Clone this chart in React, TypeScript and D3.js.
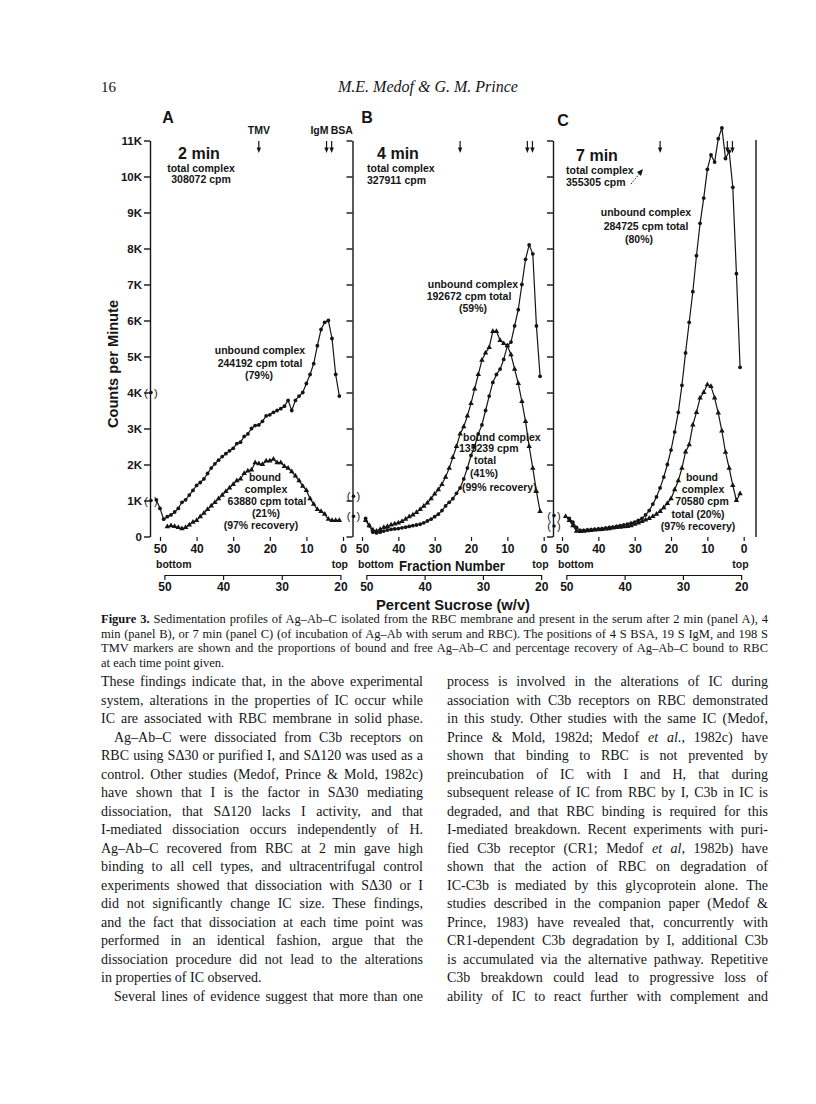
import React, { useEffect, useRef } from 'react';
import * as d3 from 'd3';

// fraction numbers (1 = top of gradient)
const fractions = [1, 2, 3, 4, 5, 6, 7, 8, 9, 10, 11, 12, 13, 14, 15, 16, 17, 18, 19, 20, 21, 22, 23, 24, 25,
  26, 27, 28, 29, 30, 31, 32, 33, 34, 35, 36, 37, 38, 39, 40, 41, 42, 43, 44, 45, 46, 47, 48, 49, 50, 51];
const yTicks = [0, 1, 2, 3, 4, 5, 6, 7, 8, 9, 10, 11];
const fractionTicks = [50, 40, 30, 20, 10, 0];
const sucroseTicks = [50, 40, 30, 20];

// counts per minute (thousands), listed from fraction 1 upward
const unboundA = [3.9, 4.5, 5.5, 6.0, 5.95, 5.75, 5.3, 4.8, 4.5, 4.25, 4.0, 3.9, 3.78, 3.5, 3.78, 3.62, 3.55, 3.5,
  3.45, 3.38, 3.35, 3.2, 3.1, 3.08, 3.0, 2.85, 2.78, 2.62, 2.58, 2.45, 2.38, 2.3, 2.22, 2.12, 2.02, 1.9, 1.75, 1.6,
  1.5, 1.42, 1.28, 1.15, 1.02, 0.95, 0.78, 0.68, 0.6, 0.55, 0.48, 0.78, 1.02];
const boundA = [0.45, 0.45, 0.45, 0.48, 0.62, 0.7, 0.75, 0.9, 1.05, 1.28, 1.4, 1.55, 1.68, 1.8, 1.9, 1.95, 2.05,
  2.05, 2.15, 2.1, 2.1, 2.0, 2.02, 2.05, 1.85, 1.82, 1.75, 1.6, 1.55, 1.45, 1.35, 1.25, 1.15, 1.05, 0.95, 0.85,
  0.75, 0.65, 0.55, 0.45, 0.4, 0.32, 0.25, 0.22, 0.25, 0.28, 0.3, 0.27];
const unboundB = [4.45, 5.85, 7.85, 8.1, 7.7, 7.0, 6.3, 5.85, 5.4, 5.3, 4.92, 4.65, 4.5, 4.28, 3.9, 3.5, 3.1, 2.85,
  2.5, 2.25, 1.9, 1.6, 1.35, 1.2, 1.05, 0.95, 0.85, 0.72, 0.62, 0.55, 0.48, 0.43, 0.38, 0.34, 0.32, 0.3, 0.28,
  0.26, 0.24, 0.22, 0.21, 0.2, 0.18, 0.15, 0.12, 0.1, 0.12, 0.3, 0.5];
const boundB = [0.7, 1.25, 1.9, 2.5, 3.2, 3.75, 4.25, 4.65, 5.05, 5.3, 5.36, 5.45, 5.7, 5.7, 5.25, 5.1, 4.9, 4.5,
  4.1, 3.7, 3.35, 3.05, 2.85, 2.5, 2.2, 1.9, 1.65, 1.45, 1.3, 1.18, 1.05, 0.93, 0.84, 0.75, 0.67, 0.6, 0.55, 0.48,
  0.42, 0.38, 0.35, 0.32, 0.28, 0.25, 0.2, 0.15, 0.18, 0.3, 0.45];
const unboundC = [4.7, 7.3, 9.7, 10.7, 10.5, 11.35, 11.05, 10.4, 10.6, 10.2, 9.4, 8.7, 7.8, 6.8, 5.95, 5.1, 4.2,
  3.45, 2.9, 2.4, 2.0, 1.65, 1.35, 1.1, 0.9, 0.72, 0.6, 0.5, 0.45, 0.4, 0.37, 0.34, 0.32, 0.3, 0.28, 0.26, 0.25,
  0.23, 0.22, 0.21, 0.2, 0.19, 0.18, 0.17, 0.17, 0.25, 0.4, 0.5];
const boundC = [1.19, 1.0, 1.42, 1.9, 2.34, 2.93, 3.43, 3.85, 4.17, 4.22, 4.0, 3.85, 3.45, 3.1, 2.55, 2.35, 1.9,
  1.55, 1.3, 1.05, 0.92, 0.8, 0.7, 0.62, 0.56, 0.5, 0.46, 0.42, 0.38, 0.34, 0.3, 0.28, 0.27, 0.26, 0.25, 0.24,
  0.22, 0.21, 0.2, 0.19, 0.18, 0.17, 0.16, 0.15, 0.14, 0.15, 0.3, 0.45, 0.56];

// pellet counts drawn in brackets on the y axis
const pelletsA = [4.0, 1.0];
const pelletsB = [1.12, 0.56];
const pelletsC = [0.58, 0.29];

// sedimentation markers (fraction numbers)
const markerNames = ['TMV', 'IgM', 'BSA'];
const markerFractions = [23, 4.5, 3.1];

const INK = '#151515';
const SANS = '"Liberation Sans", Arial, sans-serif';
const SERIF = '"Liberation Serif", "Times New Roman", serif';

const panels = [
  { letter: 'A', axisX: 150, x50: 160, x0: 343, unbound: unboundA, bound: boundA, pellets: pelletsA },
  { letter: 'B', axisX: 352.5, x50: 362, x0: 543.7, unbound: unboundB, bound: boundB, pellets: pelletsB },
  { letter: 'C', axisX: 553, x50: 562, x0: 743.7, unbound: unboundC, bound: boundC, pellets: pelletsC },
];

const caption = [
  'Sedimentation profiles of Ag–Ab–C isolated from the RBC membrane and present in the serum after 2 min (panel A), 4',
  'min (panel B), or 7 min (panel C) (of incubation of Ag–Ab with serum and RBC). The positions of 4 S BSA, 19 S IgM, and 198 S',
  'TMV markers are shown and the proportions of bound and free Ag–Ab–C and percentage recovery of Ag–Ab–C bound to RBC',
  'at each time point given.',
];

// '>' = paragraph indent, '|' at end = last line (not justified), *x* = italic
const leftLines = [
  'These findings indicate that, in the above experimental',
  'system, alterations in the properties of IC occur while',
  'IC are associated with RBC membrane in solid phase.',
  '>Ag–Ab–C were dissociated from C3b receptors on',
  'RBC using SΔ30 or purified I, and SΔ120 was used as a',
  'control. Other studies (Medof, Prince & Mold, 1982c)',
  'have shown that I is the factor in SΔ30 mediating',
  'dissociation, that SΔ120 lacks I activity, and that',
  'I-mediated dissociation occurs independently of H.',
  'Ag–Ab–C recovered from RBC at 2 min gave high',
  'binding to all cell types, and ultracentrifugal control',
  'experiments showed that dissociation with SΔ30 or I',
  'did not significantly change IC size. These findings,',
  'and the fact that dissociation at each time point was',
  'performed in an identical fashion, argue that the',
  'dissociation procedure did not lead to the alterations',
  'in properties of IC observed.|',
  '>Several lines of evidence suggest that more than one',
];
const rightLines = [
  'process is involved in the alterations of IC during',
  'association with C3b receptors on RBC demonstrated',
  'in this study. Other studies with the same IC (Medof,',
  'Prince & Mold, 1982d; Medof *et al.*, 1982c) have',
  'shown that binding to RBC is not prevented by',
  'preincubation of IC with I and H, that during',
  'subsequent release of IC from RBC by I, C3b in IC is',
  'degraded, and that RBC binding is required for this',
  'I-mediated breakdown. Recent experiments with puri-',
  'fied C3b receptor (CR1; Medof *et al*, 1982b) have',
  'shown that the action of RBC on degradation of',
  'IC-C3b is mediated by this glycoprotein alone. The',
  'studies described in the companion paper (Medof &',
  'Prince, 1983) have revealed that, concurrently with',
  'CR1-dependent C3b degradation by I, additional C3b',
  'is accumulated via the alternative pathway. Repetitive',
  'C3b breakdown could lead to progressive loss of',
  'ability of IC to react further with complement and',
];

const rich = (s: string) =>
  s.split('*').map((part, i) =>
    i % 2 === 1 ? <tspan key={i} fontStyle="italic">{part}</tspan> : <tspan key={i}>{part}</tspan>
  );

const Column = ({ lines, x, width, top, lead }: { lines: string[]; x: number; width: number; top: number; lead: number }) => (
  <g fontFamily={SERIF} fontSize={14} fill={INK}>
    {lines.map((raw, i) => {
      const indent = raw.startsWith('>') ? 13 : 0;
      const last = raw.endsWith('|');
      const t = raw.replace(/^>/, '').replace(/\|$/, '');
      return (
        <text key={i} x={x + indent} y={top + i * lead} className={last ? undefined : 'just'}
          data-w={width - indent}>
          {rich(t)}
        </text>
      );
    })}
  </g>
);

const L = ({ x, y, t, size = 10.5, anchor = 'middle' }: { x: number; y: number; t: string; size?: number; anchor?: string }) => (
  <text x={x} y={y} fontSize={size} textAnchor={anchor as any}>{t}</text>
);

export default function App() {
  const ref = useRef<SVGGElement>(null);
  const svgRef = useRef<SVGSVGElement>(null);

  useEffect(() => {
    const root = d3.select(ref.current);
    root.selectAll('*').remove();

    const y = d3.scaleLinear().domain([0, 11]).range([536.5, 140.5]);

    panels.forEach((p) => {
      const x = d3.scaleLinear().domain([50, 0]).range([p.x50, p.x0]);
      const g = root.append('g');

      // y axis
      const ya = g.append('g')
        .attr('transform', `translate(${p.axisX},0)`)
        .call(
          d3.axisLeft(y).tickValues(yTicks).tickSize(6).tickSizeOuter(0).tickPadding(2)
            .tickFormat((d) => (p.letter === 'A' ? (+d === 0 ? '0' : `${d}K`) : ''))
        );
      ya.attr('font-family', SANS).attr('font-size', 11.5).attr('font-weight', 'bold');
      ya.selectAll('line, path').attr('stroke', INK).attr('stroke-width', 1.4);
      ya.selectAll('text').attr('fill', INK);

      // fraction number ticks
      const xa = g.append('g')
        .attr('transform', 'translate(0,537)')
        .call(d3.axisBottom(x).tickValues(fractionTicks).tickSize(4).tickPadding(3).tickFormat(d3.format('d')));
      xa.select('.domain').remove();
      xa.attr('font-family', SANS).attr('font-size', 12).attr('font-weight', 'bold');
      xa.selectAll('line').attr('stroke', INK).attr('stroke-width', 1.2);
      xa.selectAll('text').attr('fill', INK);

      // percent sucrose scale
      const s = d3.scaleLinear().domain([50, 20]).range([x(48.8), x(0.7)]);
      const sa = g.append('g')
        .attr('transform', 'translate(0,575)')
        .call(d3.axisBottom(s).tickValues(sucroseTicks).tickSize(5).tickSizeOuter(0).tickPadding(2).tickFormat(d3.format('d')));
      sa.attr('font-family', SANS).attr('font-size', 12).attr('font-weight', 'bold');
      sa.selectAll('line, path').attr('stroke', INK).attr('stroke-width', 1.2);
      sa.selectAll('text').attr('fill', INK);

      g.append('text').attr('x', x(50) - 4).attr('y', 568).text('bottom')
        .attr('font-family', SANS).attr('font-size', 10.5).attr('font-weight', 'bold').attr('fill', INK);
      g.append('text').attr('x', x(0) + 5).attr('y', 568).attr('text-anchor', 'end').text('top')
        .attr('font-family', SANS).attr('font-size', 10.5).attr('font-weight', 'bold').attr('fill', INK);

      // markers
      markerFractions.forEach((f) => {
        const mx = x(f);
        g.append('line').attr('x1', mx).attr('x2', mx).attr('y1', 141).attr('y2', 149)
          .attr('stroke', INK).attr('stroke-width', 1.2);
        g.append('path').attr('d', `M${mx - 2.2},147.5L${mx + 2.2},147.5L${mx},153Z`).attr('fill', INK);
      });
      if (p.letter === 'A') {
        const mk = g.append('g').attr('font-family', SANS).attr('font-size', 10.5)
          .attr('font-weight', 'bold').attr('fill', INK);
        mk.append('text').attr('x', x(markerFractions[0])).attr('y', 134).attr('text-anchor', 'middle')
          .text(markerNames[0]);
        mk.append('text').attr('x', x(markerFractions[1]) + 2).attr('y', 134).attr('text-anchor', 'end')
          .text(markerNames[1]);
        mk.append('text').attr('x', x(markerFractions[2]) - 1).attr('y', 134).attr('text-anchor', 'start')
          .text(markerNames[2]);
      }

      // curves
      const line = d3.line<number>().x((_, i) => x(fractions[i])).y((d) => y(d));
      g.append('path').attr('d', line(p.bound)).attr('fill', 'none').attr('stroke', INK).attr('stroke-width', 1.2);
      g.append('path').attr('d', line(p.unbound)).attr('fill', 'none').attr('stroke', INK).attr('stroke-width', 1.2);
      g.selectAll('circle.u').data(p.unbound).join('circle').attr('class', 'u')
        .attr('cx', (_, i) => x(fractions[i])).attr('cy', (d) => y(d)).attr('r', 1.9).attr('fill', INK);
      g.selectAll('path.b').data(p.bound).join('path').attr('class', 'b')
        .attr('d', d3.symbol(d3.symbolTriangle, 13) as any)
        .attr('transform', (d, i) => `translate(${x(fractions[i])},${y(d)})`).attr('fill', INK);

      // pellets in brackets
      p.pellets.forEach((v) => {
        const py = y(v);
        g.append('circle').attr('cx', p.axisX + 1).attr('cy', py).attr('r', 1.8).attr('fill', INK);
        g.append('text').attr('x', p.axisX - 2).attr('y', py + 4).attr('text-anchor', 'end').text('(')
          .attr('font-family', SANS).attr('font-size', 11).attr('fill', INK);
        g.append('text').attr('x', p.axisX + 4).attr('y', py + 4).text(')')
          .attr('font-family', SANS).attr('font-size', 11).attr('fill', INK);
      });
    });

    // right frame of panel C
    root.append('line').attr('x1', 756).attr('x2', 756).attr('y1', 140).attr('y2', 537)
      .attr('stroke', INK).attr('stroke-width', 1.4);

    // justify body and caption lines by word spacing
    d3.select(svgRef.current).selectAll<SVGTextElement, unknown>('text.just').each(function () {
      const target = +(this.getAttribute('data-w') || 0);
      this.style.wordSpacing = '0px';
      const natural = this.getComputedTextLength();
      const spaces = (this.textContent || '').split(' ').length - 1;
      if (spaces > 0) this.style.wordSpacing = `${(target - natural) / spaces}px`;
    });
  }, []);

  return (
    <svg ref={svgRef} width={816} height={1104} style={{ position: 'absolute', left: 0, top: 0, background: '#fff' }}>
      {/* running head */}
      <text x={101} y={92} fontFamily={SERIF} fontSize={15} fill={INK}>16</text>
      <text x={428} y={92} fontFamily={SERIF} fontSize={16} fontStyle="italic" textAnchor="middle" fill={INK}>
        M.E. Medof &amp; G. M. Prince
      </text>

      <g ref={ref} />

      {/* annotations */}
      <g fontFamily={SANS} fontWeight="bold" fill={INK}>
        <L x={168} y={123} t="A" size={16} />
        <L x={367} y={123} t="B" size={16} />
        <L x={563} y={126} t="C" size={16} />

        <L x={199} y={159} t="2 min" size={16} />
        <L x={201} y={172} t="total complex" />
        <L x={201} y={183} t="308072 cpm" />
        <L x={260} y={354} t="unbound complex" />
        <L x={260} y={367} t="244192 cpm total" />
        <L x={259} y={379} t="(79%)" />
        <L x={265} y={481} t="bound" />
        <L x={266} y={493} t="complex" />
        <L x={267} y={505} t="63880 cpm total" />
        <L x={266} y={517} t="(21%)" />
        <L x={261} y={529} t="(97% recovery)" />

        <L x={398} y={159} t="4 min" size={16} />
        <L x={367} y={172} t="total complex" anchor="start" />
        <L x={367} y={184} t="327911  cpm" anchor="start" />
        <L x={473} y={288} t="unbound complex" />
        <L x={469} y={300} t="192672 cpm total" />
        <L x={473} y={312} t="(59%)" />
        <L x={463} y={441} t="bound complex" anchor="start" />
        <L x={459} y={452} t="135239 cpm" anchor="start" />
        <L x={485} y={464} t="total" />
        <L x={484} y={477} t="(41%)" />
        <L x={462} y={491} t="(99% recovery)" anchor="start" />

        <L x={597} y={161} t="7 min" size={16} />
        <L x={566} y={174} t="total complex" anchor="start" />
        <L x={566} y={186} t="355305 cpm" anchor="start" />
        <L x={646} y={216} t="unbound complex" />
        <L x={646} y={230} t="284725 cpm total" />
        <L x={639} y={243} t="(80%)" />
        <L x={702} y={481} t="bound" />
        <L x={703} y={493} t="complex" />
        <L x={702} y={505} t="70580 cpm" />
        <L x={698} y={518} t="total (20%)" />
        <L x={698} y={530} t="(97% recovery)" />
      </g>
      <path d="M631,184L640,173" stroke={INK} strokeWidth={1} strokeDasharray="1.5,1.5" fill="none" />
      <path d="M643,169L637,172L641,176Z" fill={INK} />

      {/* axis titles */}
      <text transform="translate(118,364) rotate(-90)" textAnchor="middle" fontFamily={SANS} fontWeight="bold"
        fontSize={15} textLength={128} lengthAdjust="spacingAndGlyphs" fill={INK}>Counts per Minute</text>
      <text x={452} y={571} textAnchor="middle" fontFamily={SANS} fontWeight="bold" fontSize={15}
        textLength={106} lengthAdjust="spacingAndGlyphs" fill={INK}>Fraction Number</text>
      <text x={453} y={610} textAnchor="middle" fontFamily={SANS} fontWeight="bold" fontSize={15}
        textLength={154} lengthAdjust="spacingAndGlyphs" fill={INK}>Percent Sucrose (w/v)</text>

      {/* caption */}
      <g fontFamily={SERIF} fontSize={12.5} fill={INK}>
        {caption.map((c, i) => (
          <text key={i} x={101} y={623 + i * 14.5} className={i < 3 ? 'just' : undefined} data-w={667}>
            {i === 0 ? <><tspan fontWeight="bold">Figure 3. </tspan><tspan>{c}</tspan></> : c}
          </text>
        ))}
      </g>

      <Column lines={leftLines} x={101} width={322} top={686} lead={18.5} />
      <Column lines={rightLines} x={447} width={321} top={686} lead={18.5} />
    </svg>
  );
}
